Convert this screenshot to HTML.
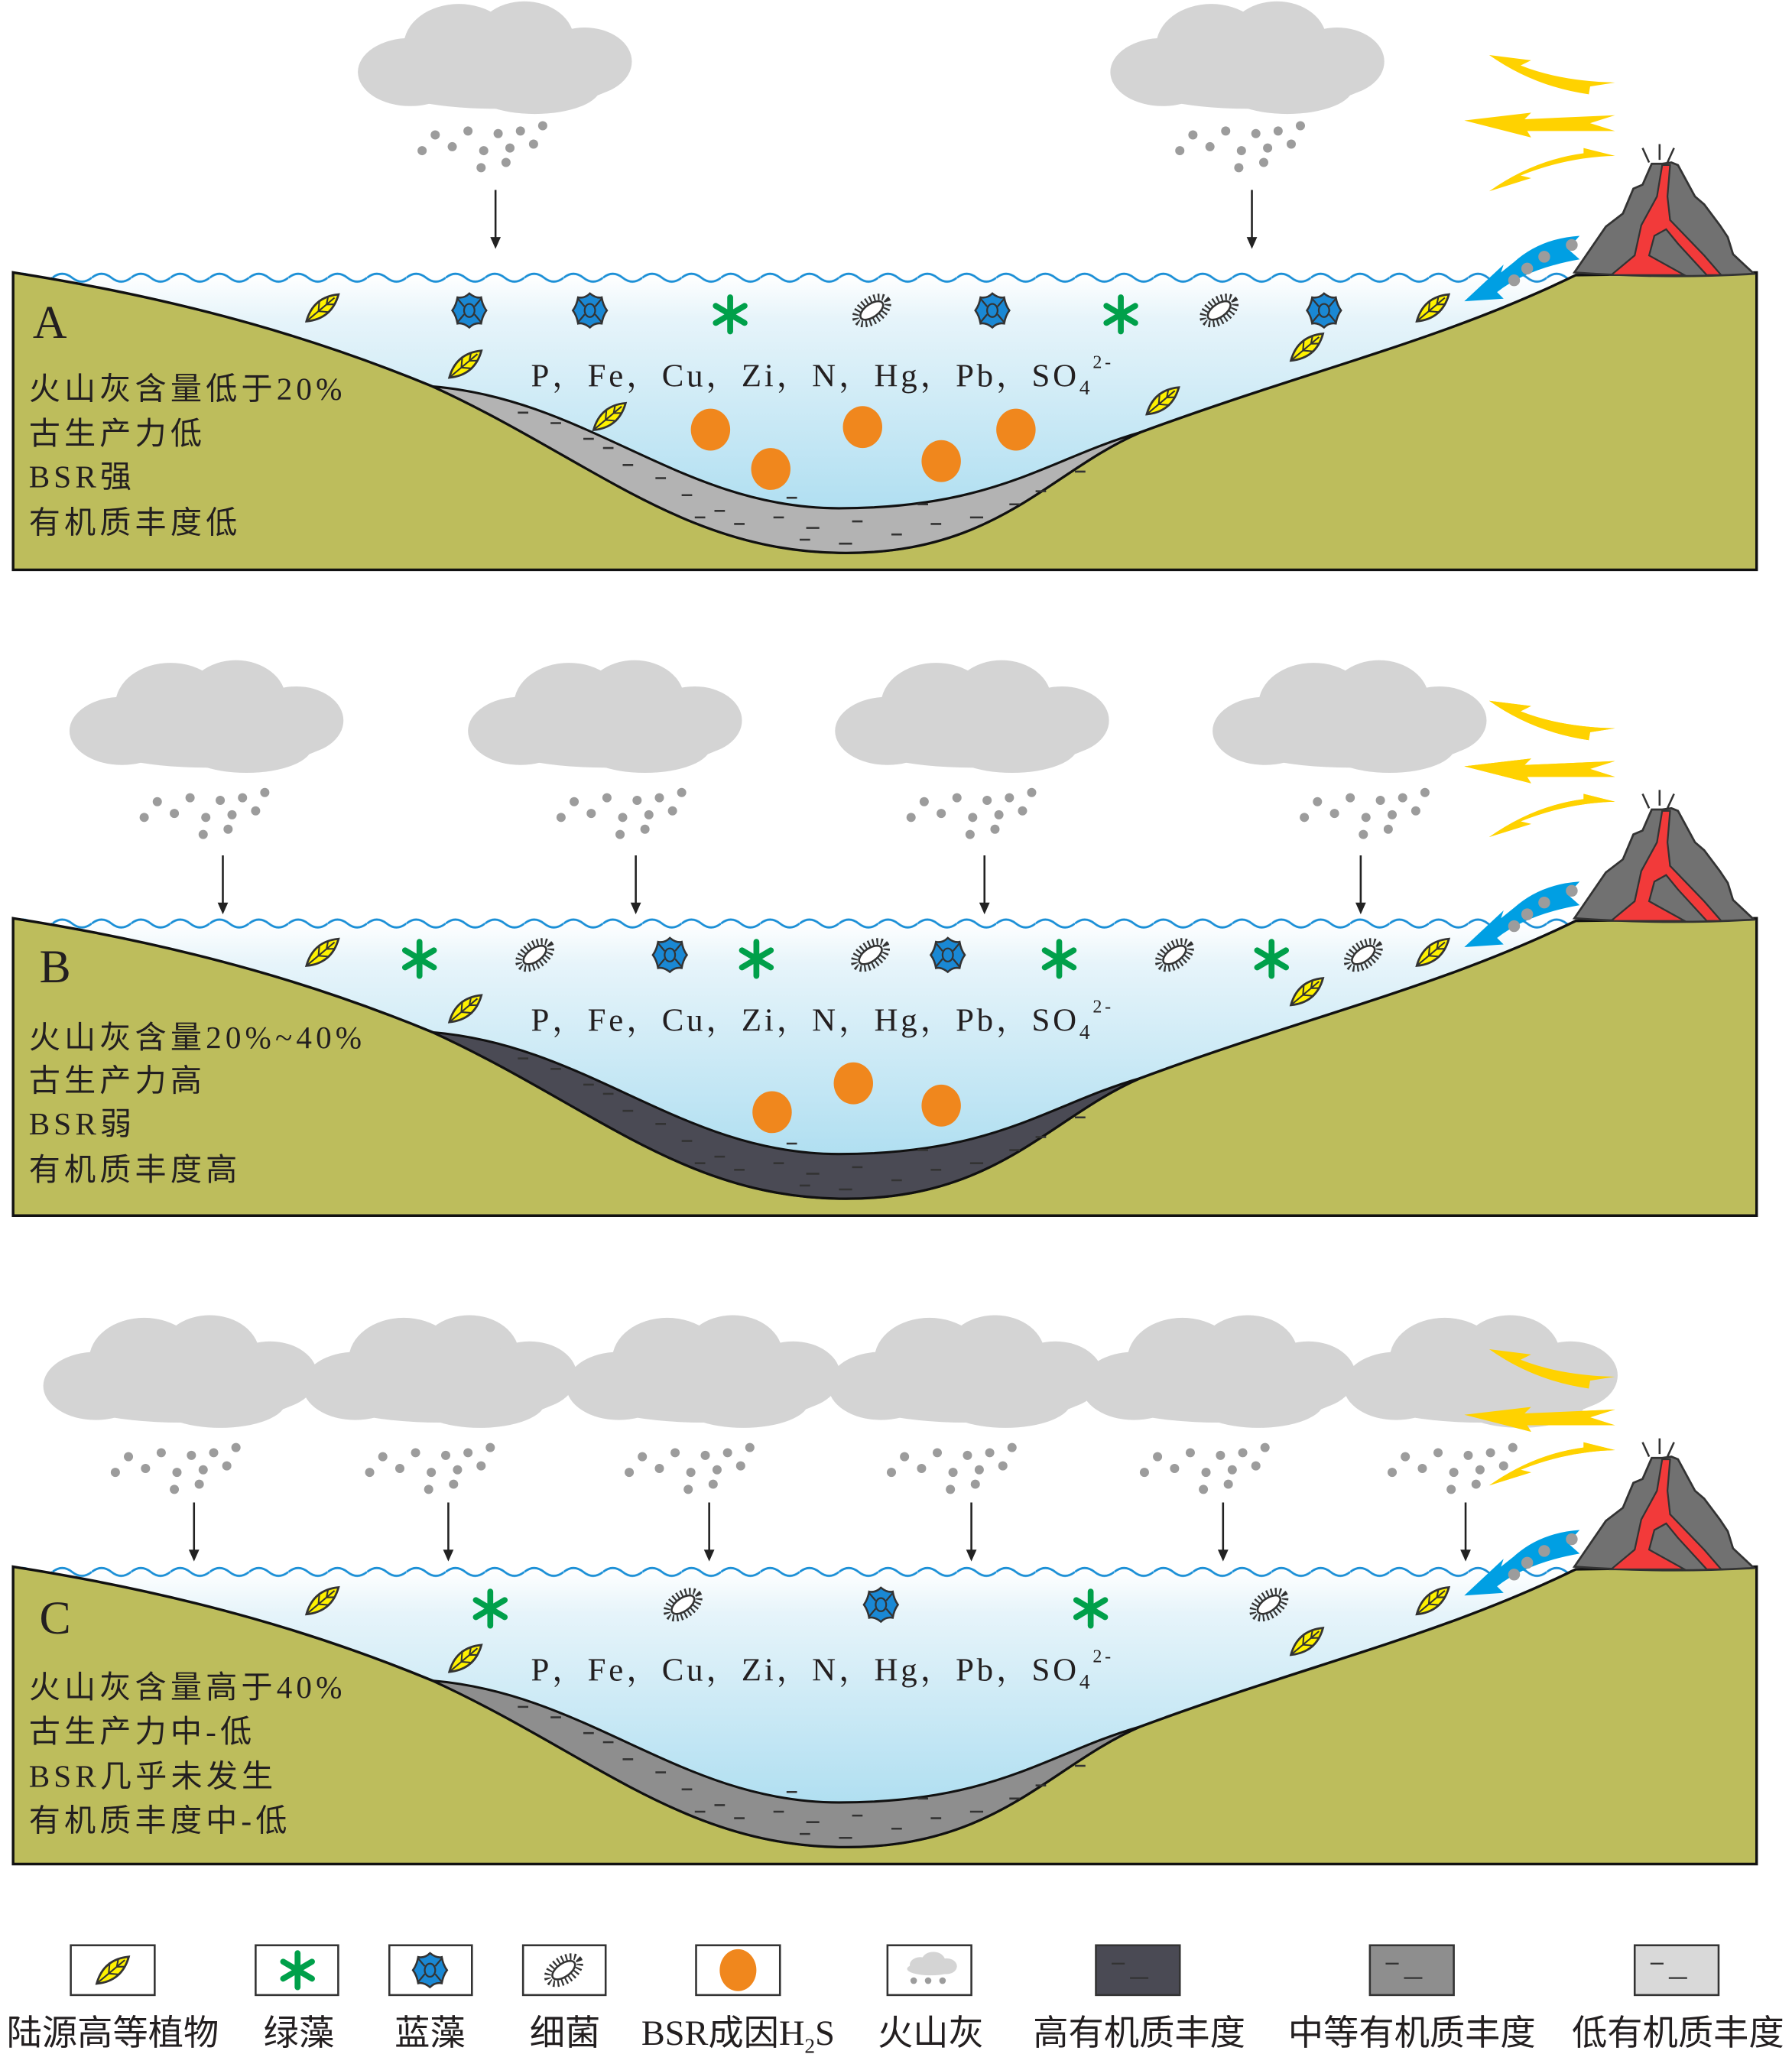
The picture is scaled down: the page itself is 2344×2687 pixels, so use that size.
<!DOCTYPE html>
<html><head><meta charset="utf-8"><style>html,body{margin:0;padding:0;background:#fff}svg{display:block}</style></head>
<body>
<svg width="2344" height="2687" viewBox="0 0 1367 1568" preserveAspectRatio="none" xmlns="http://www.w3.org/2000/svg" font-family="'Liberation Serif','Noto Serif CJK SC',serif">
<defs>
<linearGradient id="wg" x1="0" y1="0" x2="0" y2="1">
<stop offset="0" stop-color="#ffffff"/><stop offset="0.15" stop-color="#e6f4fa"/><stop offset="1" stop-color="#9fd8ee"/>
</linearGradient>
<pattern id="wave" x="10" y="206" width="30" height="12" patternUnits="userSpaceOnUse">
<path d="M0,6 Q7.5,0 15,6 T30,6" fill="none" stroke="#1b8fd6" stroke-width="1.6"/>
</pattern>
<g id="leaf"><g transform="rotate(-40)"><path d="M-16,0 Q0,-11 16,0 Q0,11 -16,0Z" fill="#fff200" stroke="#333" stroke-width="1.6"/><path d="M-16,0 L12,0 M-4,0 L2,-6 M4,0 L9,-4 M-4,0 L2,6 M4,0 L9,4" stroke="#333" stroke-width="1.2" fill="none"/></g></g>
<g id="green" stroke="#00a04a" stroke-width="4.5" stroke-linecap="round"><path d="M0,-13V13M-11,-6.5L11,6.5M-11,6.5L11,-6.5"/></g>
<g id="blue"><path d="M0,-13 Q5,-9 9,-10 Q10,-4 13,0 Q10,4 9,10 Q4,9 0,13 Q-5,9 -9,10 Q-10,4 -13,0 Q-10,-4 -9,-10 Q-4,-9 0,-13Z" fill="#1a88d4" stroke="#333" stroke-width="1.5"/><ellipse rx="4" ry="5" fill="none" stroke="#333" stroke-width="1.3"/><path d="M-4,-3L-9,-9M4,-3L9,-9M-4,3L-9,9M4,3L9,9" stroke="#333" stroke-width="1.3"/></g>
<g id="bact"><g transform="rotate(-35)"><ellipse rx="14" ry="8" fill="none" stroke="#333" stroke-width="5" stroke-dasharray="1.3 2"/><ellipse rx="10" ry="5" fill="#fff" stroke="#333" stroke-width="1.5"/></g></g>
<g id="cloud" fill="#d4d4d4"><ellipse cx="-65" cy="10" rx="40" ry="26"/><ellipse cx="-28" cy="-10" rx="42" ry="32"/><ellipse cx="22" cy="-14" rx="38" ry="30"/><ellipse cx="68" cy="2" rx="36" ry="26"/><ellipse cx="0" cy="14" rx="95" ry="24"/><ellipse cx="30" cy="22" rx="50" ry="20"/></g>
<g id="ash" fill="#9c9c9c"><circle cx="-40" cy="-15" r="3.5"/><circle cx="-15" cy="-18" r="3.5"/><circle cx="8" cy="-16" r="3.5"/><circle cx="25" cy="-18" r="3.5"/><circle cx="42" cy="-22" r="3.5"/><circle cx="-50" cy="-3" r="3.5"/><circle cx="-27" cy="-6" r="3.5"/><circle cx="-3" cy="-3" r="3.5"/><circle cx="17" cy="-5" r="3.5"/><circle cx="35" cy="-8" r="3.5"/><circle cx="-5" cy="10" r="3.5"/><circle cx="14" cy="6" r="3.5"/></g>
<g id="arrow"><line x1="0" y1="0" x2="0" y2="40" stroke="#222" stroke-width="1.5"/><path d="M-4,36 L0,45 L4,36Z" fill="#222"/></g>
<g id="yarrows">
<path d="M1136,42 L1168,46 L1160,50 Q1190,62 1232,63 L1213,66 L1212,72 Q1170,66 1136,42Z" fill="#ffd200"/>
<path d="M1117,92 L1168,86 L1163,91 L1232,88 L1213,94 L1232,100 L1165,100 L1168,105Z" fill="#ffd200"/>
<path d="M1136,146 Q1170,122 1208,117 L1208,113 L1232,119 Q1195,120 1160,134 L1168,136Z" fill="#ffd200"/>
</g>
<g id="volcano">
<path d="M1201,208 L1225,173 L1238,163 L1246,144 L1253,141 L1260,125 L1268,125 L1275,124 L1280,126 L1293,150 L1300,156 L1312,172 L1318,181 L1322,194 L1338,209 Q1270,213 1201,208Z" fill="#717171" stroke="#333" stroke-width="1.6"/>
<path d="M1268,126 L1274,126 L1272,150 L1274,168 L1300,195 L1313,210 L1302,210 L1280,186 L1271,175 L1262,180 L1258,195 L1285,210 L1229,210 L1247,195 L1252,172 L1264,150 Z" fill="#f23a3a" stroke="#333" stroke-width="1.3"/>
<path d="M1258,124 L1253,113 M1266,122 L1266,110 M1272,124 L1277,113" stroke="#333" stroke-width="1.5"/>
<use href="#yarrows"/>
<path d="M1205,180 Q1175,182 1155,200 L1145,208 L1147,202 L1117,230 L1147,228 L1142,223 Q1165,205 1205,198 L1196,190Z" fill="#009fe3"/>
<g fill="#9c9c9c"><circle cx="1199" cy="187" r="4.5"/><circle cx="1178" cy="196" r="4.5"/><circle cx="1165" cy="205" r="4.5"/><circle cx="1155" cy="214" r="4.5"/></g>
</g>
<g id="basin">
<rect x="10" y="210" width="1330" height="225" fill="url(#wg)"/>
<rect x="10" y="206" width="1190" height="12" fill="url(#wave)"/>
<path d="M10,208 C150,230 250,262 330,295 C450,350 520,420 640,422 C760,424 800,360 870,330 C1000,282 1100,260 1202,210 L1340,208 L1340,435 L10,435Z" fill="#bdbd5c" stroke="#111" stroke-width="2"/>
</g>
<path id="sed" d="M330,295 C450,305 520,388 640,388 C760,388 800,350 870,330 C800,360 760,424 640,422 C520,420 450,350 330,295Z" stroke="#111" stroke-width="1.8"/>
<g id="dashes" stroke="#333" stroke-width="1.5"><path d="M395,315h8M420,323h8M445,335h8M460,342h8M475,355h8M500,365h8M520,378h8M545,390h8M560,400h8M590,395h8M615,403h10M650,398h8M680,408h8M710,400h8M740,395h10M770,385h8M790,375h8M610,412h8M640,415h10M530,395h8M600,380h8M700,385h8M820,360h8"/></g>
</defs>

<!-- Panel A -->
<use href="#basin"/>
<use href="#sed" fill="#b3b3b3"/><use href="#dashes"/>
<use href="#volcano"/>
<use href="#cloud" x="378" y="45"/><use href="#ash" x="372" y="118"/><use href="#arrow" x="378" y="145"/>
<use href="#cloud" x="952" y="45"/><use href="#ash" x="950" y="118"/><use href="#arrow" x="955" y="145"/>
<use href="#leaf" x="246" y="235"/><use href="#blue" x="358" y="237"/><use href="#blue" x="450" y="237"/><use href="#green" x="557" y="240"/><use href="#bact" x="665" y="237"/><use href="#blue" x="757" y="237"/><use href="#green" x="855" y="240"/><use href="#bact" x="930" y="237"/><use href="#blue" x="1010" y="237"/><use href="#leaf" x="1093" y="235"/><use href="#leaf" x="355" y="278"/><use href="#leaf" x="997" y="265"/><use href="#leaf" x="465" y="318"/><use href="#leaf" x="887" y="306"/>
<g fill="#f0871d"><ellipse cx="542" cy="328" rx="15" ry="16"/><ellipse cx="588" cy="358" rx="15" ry="16"/><ellipse cx="658" cy="326" rx="15" ry="16"/><ellipse cx="718" cy="352" rx="15" ry="16"/><ellipse cx="775" cy="328" rx="15" ry="16"/></g>
<g fill="#231f20">
<text x="25" y="258" font-size="36">A</text>
<text x="405" y="295" font-size="25" letter-spacing="2.2">P，Fe，Cu，Zi，N，Hg，Pb，SO<tspan font-size="16" dy="6">4</tspan><tspan font-size="14" dy="-20">2-</tspan></text>
<g font-size="24" letter-spacing="3" font-family="'Liberation Serif','Noto Sans CJK SC',sans-serif"><text x="22" y="305">火山灰含量低于20%</text><text x="22" y="339">古生产力低</text><text x="22" y="372">BSR强</text><text x="22" y="407">有机质丰度低</text></g>
</g>

<!-- Panel B -->
<g transform="translate(0,493)">
<use href="#basin"/>
<use href="#sed" fill="#4a4a54"/><use href="#dashes"/>
<use href="#volcano"/>
<g fill="#231f20">
<text x="30" y="257" font-size="36">B</text>
<text x="405" y="294" font-size="25" letter-spacing="2.2">P，Fe，Cu，Zi，N，Hg，Pb，SO<tspan font-size="16" dy="6">4</tspan><tspan font-size="14" dy="-20">2-</tspan></text>
<g font-size="24" letter-spacing="3" font-family="'Liberation Serif','Noto Sans CJK SC',sans-serif"><text x="22" y="307">火山灰含量20%~40%</text><text x="22" y="340">古生产力高</text><text x="22" y="373">BSR弱</text><text x="22" y="408">有机质丰度高</text></g>
</g>
</g>
<use href="#cloud" x="158" y="548"/><use href="#ash" x="160" y="627"/><use href="#arrow" x="170" y="653"/>
<use href="#cloud" x="462" y="548"/><use href="#ash" x="478" y="627"/><use href="#arrow" x="485" y="653"/>
<use href="#cloud" x="742" y="548"/><use href="#ash" x="745" y="627"/><use href="#arrow" x="751" y="653"/>
<use href="#cloud" x="1030" y="548"/><use href="#ash" x="1045" y="627"/><use href="#arrow" x="1038" y="653"/>
<use href="#leaf" x="246" y="727"/><use href="#green" x="320" y="732"/><use href="#bact" x="408" y="729"/><use href="#blue" x="511" y="729"/><use href="#green" x="577" y="732"/><use href="#bact" x="664" y="729"/><use href="#blue" x="723" y="729"/><use href="#green" x="808" y="732"/><use href="#bact" x="896" y="729"/><use href="#green" x="970" y="732"/><use href="#bact" x="1040" y="729"/><use href="#leaf" x="1093" y="727"/><use href="#leaf" x="355" y="770"/><use href="#leaf" x="997" y="757"/>
<g fill="#f0871d"><ellipse cx="589" cy="849" rx="15" ry="16"/><ellipse cx="651" cy="827" rx="15" ry="16"/><ellipse cx="718" cy="844" rx="15" ry="16"/></g>
<g transform="translate(0,493)"><use href="#yarrows"/></g>

<!-- Panel C -->
<g transform="translate(0,988)">
<use href="#basin"/>
<use href="#sed" fill="#8e8e8e"/><use href="#dashes"/>
<use href="#volcano"/>
<g fill="#231f20">
<text x="30" y="259" font-size="36">C</text>
<text x="405" y="295" font-size="25" letter-spacing="2.2">P，Fe，Cu，Zi，N，Hg，Pb，SO<tspan font-size="16" dy="6">4</tspan><tspan font-size="14" dy="-20">2-</tspan></text>
<g font-size="24" letter-spacing="3" font-family="'Liberation Serif','Noto Sans CJK SC',sans-serif"><text x="22" y="308">火山灰含量高于40%</text><text x="22" y="342">古生产力中-低</text><text x="22" y="376">BSR几乎未发生</text><text x="22" y="410">有机质丰度中-低</text></g>
</g>
</g>
<use href="#cloud" x="138" y="1048"/><use href="#ash" x="138" y="1127"/><use href="#arrow" x="148" y="1147"/>
<use href="#cloud" x="336" y="1048"/><use href="#ash" x="332" y="1127"/><use href="#arrow" x="342" y="1147"/>
<use href="#cloud" x="537" y="1048"/><use href="#ash" x="530" y="1127"/><use href="#arrow" x="541" y="1147"/>
<use href="#cloud" x="737" y="1048"/><use href="#ash" x="730" y="1127"/><use href="#arrow" x="741" y="1147"/>
<use href="#cloud" x="930" y="1048"/><use href="#ash" x="923" y="1127"/><use href="#arrow" x="933" y="1147"/>
<use href="#cloud" x="1130" y="1048"/><use href="#ash" x="1112" y="1127"/><use href="#arrow" x="1118" y="1147"/>
<g transform="translate(0,988)"><use href="#yarrows"/></g>
<use href="#leaf" x="246" y="1222"/><use href="#green" x="374" y="1228"/><use href="#bact" x="521" y="1225"/><use href="#blue" x="672" y="1225"/><use href="#green" x="832" y="1228"/><use href="#bact" x="968" y="1225"/><use href="#leaf" x="1093" y="1222"/><use href="#leaf" x="355" y="1266"/><use href="#leaf" x="997" y="1253"/>

<!-- Legend -->
<g fill="#fff" stroke="#333" stroke-width="1.5">
<rect x="54" y="1485" width="64" height="38"/><rect x="195" y="1485" width="63" height="38"/><rect x="297" y="1485" width="63" height="38"/><rect x="399" y="1485" width="63" height="38"/><rect x="531" y="1485" width="64" height="38"/><rect x="677" y="1485" width="64" height="38"/>
<rect x="836" y="1485" width="64" height="38" fill="#4a4a54"/><rect x="1045" y="1485" width="64" height="38" fill="#8e8e8e"/><rect x="1247" y="1485" width="64" height="38" fill="#d9d9d9"/>
</g>
<g stroke="#333" stroke-width="1.3"><path d="M848,1499h10M862,1510h14M1057,1499h10M1071,1510h14M1259,1499h10M1273,1510h14"/></g>
<use href="#leaf" x="86" y="1504"/><use href="#green" x="227" y="1504"/><use href="#blue" x="328" y="1504"/><use href="#bact" x="430" y="1504"/>
<ellipse cx="563" cy="1504" rx="14" ry="16" fill="#f0871d"/>
<g fill="#d4d4d4"><ellipse cx="702" cy="1500" rx="8" ry="6"/><ellipse cx="712" cy="1497" rx="9" ry="7"/><ellipse cx="722" cy="1501" rx="8" ry="6"/><ellipse cx="710" cy="1503" rx="18" ry="5"/></g>
<g fill="#9c9c9c"><circle cx="697" cy="1512" r="2.5"/><circle cx="708" cy="1512" r="2.5"/><circle cx="719" cy="1512" r="2.5"/></g>
<g font-size="27" fill="#231f20" text-anchor="middle" font-family="'Liberation Serif','Noto Sans CJK SC',sans-serif">
<text x="86" y="1561">陆源高等植物</text><text x="228" y="1561">绿藻</text><text x="328" y="1561">蓝藻</text><text x="431" y="1561">细菌</text>
<text x="563" y="1561">BSR成因H<tspan font-size="16" dy="6">2</tspan><tspan dy="-6">S</tspan></text>
<text x="710" y="1561">火山灰</text><text x="869" y="1561">高有机质丰度</text><text x="1077" y="1561">中等有机质丰度</text><text x="1280" y="1561">低有机质丰度</text>
</g>
</svg>
</body></html>
